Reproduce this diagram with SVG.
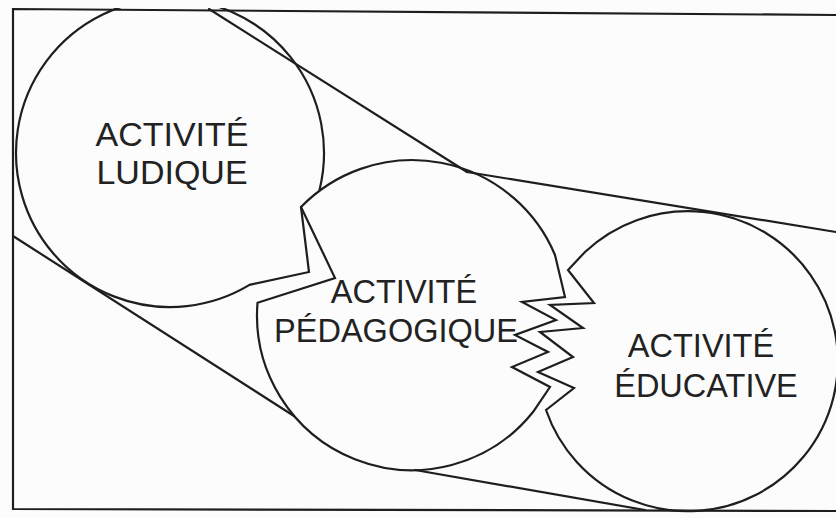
<svg xmlns="http://www.w3.org/2000/svg" width="836" height="518" viewBox="0 0 836 518">
  <style>
    .ln { fill: none; stroke: #1e1e1e; stroke-width: 2.2; stroke-linejoin: miter; stroke-linecap: round; }
    .lbl { font-family: "Liberation Sans", Arial, sans-serif; font-size: 32.5px; fill: #222; text-anchor: middle; }
    .big { font-size: 34px; }
  </style>
  <defs>
    <clipPath id="frameClip">
      <rect x="12" y="8" width="826" height="505"/>
    </clipPath>
  </defs>
  <rect x="0" y="0" width="836" height="518" fill="#fcfcfc"/>
  <g id="frame">
    <path class="ln" d="M 836,15 L 13,9 L 13,509 L 836,511"/>
  </g>
  <g clip-path="url(#frameClip)">
    <g id="connectors">
      <path class="ln" d="M 209,9 L 467,172"/>
      <path class="ln" d="M 467,172 L 836,232"/>
      <path class="ln" d="M 13,236 L 294,416"/>
      <path class="ln" d="M 415,470 L 645,510"/>
    </g>
    <g id="node-ludique">
      <path class="ln" d="M 319.5,190 A 154 154 0 1 0 249.5,284.9 L 309,272 L 301,207"/>
      <text class="lbl big" x="172" y="146">ACTIVITÉ</text>
      <text class="lbl big" x="172" y="184">LUDIQUE</text>
    </g>
    <g id="node-pedagogique">
      <path class="ln" d="M 301,207 A 155 155 0 0 1 555,255 L 565,297 L 522,302 L 556,320 L 515,335 L 548,352 L 512,367 L 550,387 L 533,412 A 155 155 0 0 1 257.5,302.8 L 335,278 Z"/>
      <text class="lbl" x="404" y="303">ACTIVITÉ</text>
      <text class="lbl" x="396" y="342">PÉDAGOGIQUE</text>
    </g>
    <g id="node-educative">
      <path class="ln" d="M 546,410 L 574,388 L 538,372 L 573,357 L 540,332 L 583,328 L 550,305 L 594,303 L 568,270 L 585,252 A 150 150 0 1 1 546,410"/>
      <text class="lbl" x="701" y="357">ACTIVITÉ</text>
      <text class="lbl" x="706" y="397">ÉDUCATIVE</text>
    </g>
  </g>
</svg>
